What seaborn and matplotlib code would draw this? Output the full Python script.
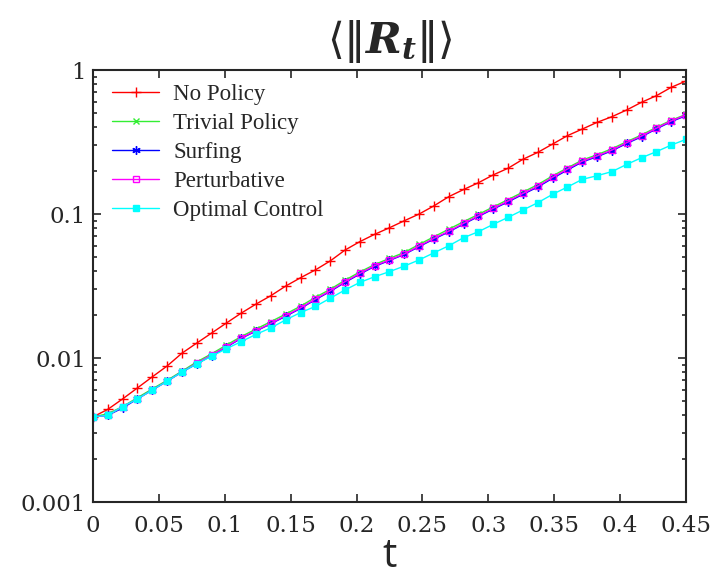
import numpy as np
import pandas as pd
import matplotlib
matplotlib.use('Agg')
import matplotlib.pyplot as plt
import seaborn as sns
from matplotlib.ticker import FixedLocator, LogLocator, NullFormatter

# sample times (41 points on 0..0.45)
t = np.linspace(0, 0.45, 41)

no_policy = [0.0039, 0.0044, 0.0052, 0.0062, 0.0074, 0.0088, 0.0108, 0.0127, 0.0149, 0.0175,
             0.0205, 0.0237, 0.0271, 0.0316, 0.0361, 0.0409, 0.0472, 0.0562, 0.0643, 0.0723,
             0.0803, 0.0898, 0.100, 0.114, 0.132, 0.148, 0.165, 0.187, 0.208, 0.240,
             0.268, 0.306, 0.350, 0.389, 0.433, 0.474, 0.528, 0.597, 0.663, 0.758, 0.839]
trivial = [0.0039, 0.0041, 0.0046, 0.0053, 0.0061, 0.0070, 0.0081, 0.0094, 0.0107, 0.0123,
           0.0141, 0.0159, 0.0179, 0.0202, 0.0229, 0.0264, 0.0300, 0.0347, 0.0396, 0.0446,
           0.0492, 0.0541, 0.0615, 0.0695, 0.0785, 0.0885, 0.0995, 0.1120, 0.126, 0.142,
           0.160, 0.184, 0.209, 0.237, 0.258, 0.284, 0.318, 0.354, 0.400, 0.448, 0.492]
surfing = [0.0039, 0.0040, 0.0045, 0.0052, 0.0060, 0.0069, 0.0080, 0.0091, 0.0104, 0.0119,
           0.0137, 0.0154, 0.0173, 0.0195, 0.0221, 0.0254, 0.0290, 0.0335, 0.0383, 0.0433,
           0.0476, 0.0524, 0.0594, 0.0670, 0.0752, 0.0852, 0.0962, 0.1083, 0.1215, 0.137,
           0.154, 0.177, 0.202, 0.230, 0.250, 0.275, 0.309, 0.344, 0.390, 0.438, 0.482]
perturbative = [0.0039, 0.0040, 0.0046, 0.0052, 0.0060, 0.0069, 0.0080, 0.0092, 0.0105, 0.0120,
                0.0138, 0.0155, 0.0174, 0.0197, 0.0223, 0.0257, 0.0293, 0.0339, 0.0387, 0.0438,
                0.0480, 0.0528, 0.0600, 0.0678, 0.0760, 0.0862, 0.0973, 0.1096, 0.123, 0.139,
                0.156, 0.180, 0.205, 0.233, 0.253, 0.278, 0.313, 0.348, 0.394, 0.443, 0.487]
optimal = [0.0039, 0.0040, 0.0046, 0.0052, 0.0060, 0.0069, 0.0080, 0.0091, 0.0103, 0.0116,
           0.0130, 0.0146, 0.0162, 0.0184, 0.0207, 0.0228, 0.0260, 0.0297, 0.0335, 0.0367,
           0.0398, 0.0435, 0.0480, 0.0538, 0.0602, 0.0685, 0.0754, 0.0848, 0.0948, 0.1066,
           0.1198, 0.137, 0.154, 0.174, 0.1845, 0.197, 0.221, 0.246, 0.271, 0.301, 0.330]

names = ['No Policy', 'Trivial Policy', 'Surfing', 'Perturbative', 'Optimal Control']
series = [no_policy, trivial, surfing, perturbative, optimal]
colors = ['#ff0000', '#33ee33', '#0000ff', '#ff00ff', '#00ffff']
markers = ['+', 'x', (6, 2, 0), 's', 's']
msizes = [7, 5, 6, 5, 5]
mfc = ['#ff0000', '#33ee33', '#0000ff', 'none', '#00ffff']

xticks = [0, 0.05, 0.1, 0.15, 0.2, 0.25, 0.3, 0.35, 0.4, 0.45]
xtick_labels = ['0', '0.05', '0.1', '0.15', '0.2', '0.25', '0.3', '0.35', '0.4', '0.45']
yticks = [0.001, 0.01, 0.1, 1]
ytick_labels = ['0.001', '0.01', '0.1', '1']

df = pd.concat([pd.DataFrame({'t': t, 'R': s, 'method': n}) for n, s in zip(names, series)])

sns.set_style('ticks')
plt.rcParams['font.family'] = ['Liberation Serif', 'DejaVu Serif']
plt.rcParams['mathtext.fontset'] = 'custom'
plt.rcParams['mathtext.bf'] = 'DejaVu Serif:bold:italic'
plt.rcParams['mathtext.rm'] = 'DejaVu Serif'

fig = plt.figure(figsize=(7.12, 5.84), dpi=100)
ax = fig.add_axes([0.1306, 0.1404, 0.8329, 0.7397])

for n, c, m, ms, fc in zip(names, colors, markers, msizes, mfc):
    sub = df[df['method'] == n]
    sns.lineplot(data=sub, x='t', y='R', ax=ax, color=c, marker=m, markersize=ms,
                 markerfacecolor=fc, markeredgecolor=c, markeredgewidth=1.0,
                 linewidth=1.0, label=n)

tickfont = ['DejaVu Serif']
ax.set_yscale('log')
ax.set_xlim(0, 0.45)
ax.set_ylim(0.001, 1)
ax.set_xticks(xticks)
ax.set_xticklabels(xtick_labels, fontsize=16.5, family=tickfont)
ax.yaxis.set_major_locator(FixedLocator(yticks))
ax.set_yticklabels(ytick_labels, fontsize=16.5, family=tickfont)
ax.yaxis.set_minor_locator(LogLocator(base=10, subs=np.arange(2, 10)))
ax.yaxis.set_minor_formatter(NullFormatter())
ax.tick_params(which='both', direction='in', top=True, right=True, width=1.2)
ax.tick_params(which='major', length=6)
ax.tick_params(axis='x', which='major', pad=9)
ax.tick_params(axis='y', which='major', pad=5)
ax.tick_params(which='minor', length=3)
for sp in ax.spines.values():
    sp.set_linewidth(1.5)

ax.set_xlabel('t', fontsize=29, family=['Open Sans', 'DejaVu Sans'], labelpad=0)
ax.set_ylabel('')
ax.set_title('⟨‖' + r'$\mathbf{R_t}$' + '‖⟩', fontsize=31, pad=12,
             family=['DejaVu Sans'])

leg = ax.legend(loc='upper left', bbox_to_anchor=(-0.003, 1.016), frameon=False,
                fontsize=16.5, handlelength=2.08, labelspacing=0.35,
                borderaxespad=0.5, handletextpad=0.6)

fig.savefig('out.png', dpi=100)
